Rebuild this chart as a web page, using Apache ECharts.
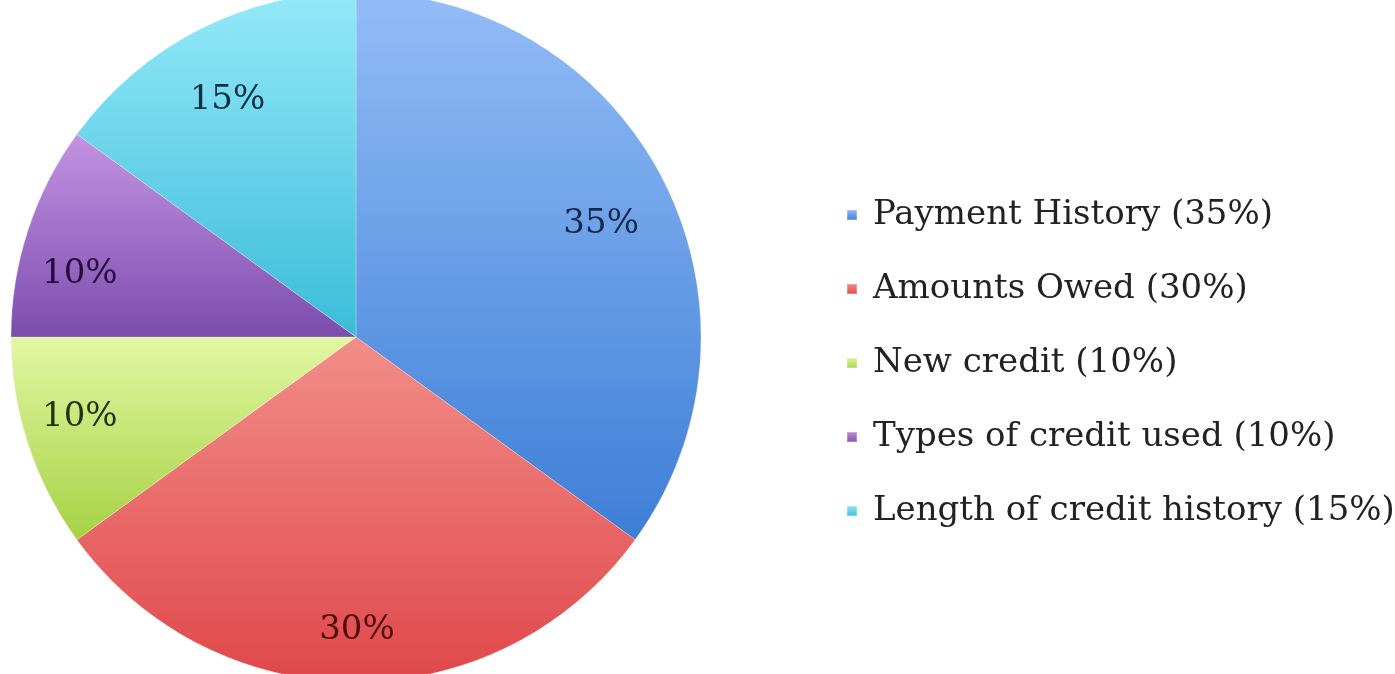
<!DOCTYPE html>
<html>
<head>
<meta charset="utf-8">
<script src="https://cdn.jsdelivr.net/npm/echarts@6/dist/echarts.min.js"></script>
<style>
  html, body { margin: 0; padding: 0; background: #fff; }
  #chart { width: 1395px; height: 674px; }
</style>
</head>
<body>
<div id="chart"></div>
<script>
const categories = ['Payment History', 'Amounts Owed', 'New credit', 'Types of credit used', 'Length of credit history']
const values = [35, 30, 10, 10, 15]

// top / bottom of each slice gradient, and the label ink
const topColors = ['#93bdf7', '#f28e89', '#e2f7a4', '#c394e2', '#94e9f9']
const bottomColors = ['#3d7ed6', '#e0474a', '#a6d244', '#7c4cae', '#3bbcd9']
const labelColors = ['#16284a', '#4e0c0c', '#1f3208', '#240a3c', '#0a3040']

// small nudges so the percent labels sit where the original put them
const labelNudge = [[-7, 16], [1, 10], [-7, -7], [-7, 25], [0, 15]]

const font = '"DejaVu Serif", serif'

let chart = echarts.init(document.getElementById('chart'))

const pieData = categories.map((name, i) => ({
  name: name,
  value: values[i],
  itemStyle: {
    color: new echarts.graphic.LinearGradient(0, 0, 0, 1, [
      { offset: 0, color: topColors[i] },
      { offset: 1, color: bottomColors[i] }
    ])
  }
}))

// transparent ring that only carries the percent labels further out
const labelData = categories.map((name, i) => ({
  name: name,
  value: values[i],
  label: { color: labelColors[i] }
}))

const option = {
  animation: false,
  legend: {
    orient: 'vertical',
    left: 841,
    top: 193,
    itemWidth: 10,
    itemHeight: 10,
    itemGap: 40,
    icon: 'rect',
    data: categories,
    formatter(name) {
      return name + ' (' + values[categories.indexOf(name)] + '%)'
    },
    textStyle: {
      fontFamily: font,
      fontSize: 34,
      color: '#222',
      padding: [0, 0, 0, 11]
    }
  },
  series: [
    {
      type: 'pie',
      center: [356, 337],
      radius: [0, 345],
      startAngle: 90,
      clockwise: true,
      label: { show: false },
      labelLine: { show: false },
      itemStyle: { borderColor: 'rgba(255,255,255,0.25)', borderWidth: 1 },
      emphasis: { disabled: true },
      data: pieData
    },
    {
      type: 'pie',
      silent: true,
      center: [356, 337],
      radius: [215, 345],
      startAngle: 90,
      clockwise: true,
      itemStyle: { color: 'rgba(0,0,0,0)' },
      label: {
        show: true,
        position: 'inside',
        fontFamily: font,
        fontSize: 34,
        formatter: '{c}%'
      },
      labelLayout(params) {
        const n = labelNudge[params.dataIndex]
        return { dx: n[0], dy: n[1] }
      },
      labelLine: { show: false },
      emphasis: { disabled: true },
      data: labelData
    }
  ]
}

chart.setOption(option)
</script>
</body>
</html>
